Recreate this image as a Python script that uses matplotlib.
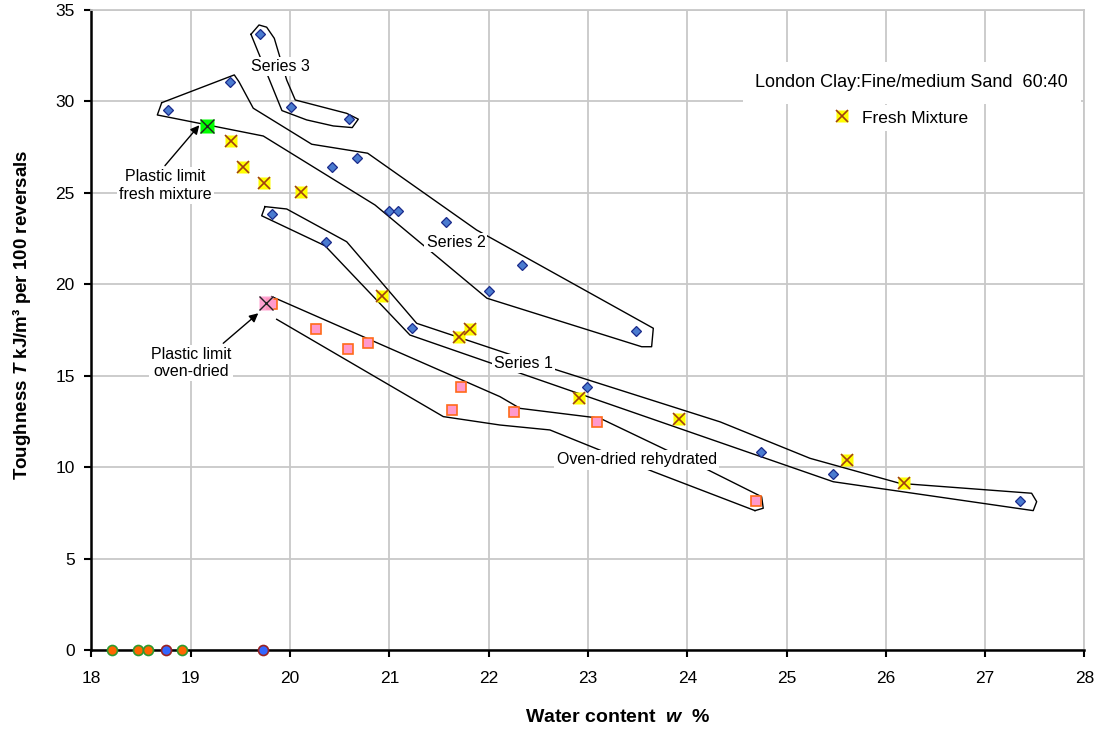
import matplotlib
matplotlib.use('Agg')
import matplotlib.pyplot as plt
from matplotlib.lines import Line2D

plt.rcParams['font.family'] = ['Liberation Sans', 'DejaVu Sans']
plt.rcParams['mathtext.fontset'] = 'custom'
plt.rcParams['mathtext.it'] = 'Liberation Sans:bold:italic'
plt.rcParams['mathtext.rm'] = 'Liberation Sans:bold'
plt.rcParams['mathtext.bf'] = 'Liberation Sans:bold'

# ---------------- data ----------------
# Blue diamond series (water content %, toughness)
s3_w = [19.70, 20.01, 20.59]
s3_T = [33.66, 29.69, 29.03]
s2_w = [18.77, 19.39, 20.42, 20.67, 21.00, 21.09, 21.57, 22.34, 22.00, 23.48]
s2_T = [29.52, 31.07, 26.42, 26.88, 24.02, 24.02, 23.40, 21.03, 19.63, 17.44]
s1_w = [19.82, 20.36, 21.23, 22.99, 24.74, 25.47, 27.35]
s1_T = [23.82, 22.32, 17.59, 14.36, 10.83, 9.64, 8.16]

# Fresh mixture
fresh_w = [19.40, 19.53, 19.74, 20.11, 20.93, 21.70, 21.81, 22.91, 23.92, 25.61, 26.18]
fresh_T = [27.83, 26.41, 25.52, 25.04, 19.33, 17.11, 17.53, 13.79, 12.61, 10.39, 9.15]

# Oven-dried rehydrated
oven_w = [19.82, 20.26, 20.58, 20.78, 21.72, 21.63, 22.26, 23.09, 24.69]
oven_T = [18.92, 17.57, 16.46, 16.79, 14.36, 13.12, 13.03, 12.45, 8.16]

# Plastic limits
pl_fresh_w, pl_fresh_T = [19.16], [28.65]
pl_oven_w, pl_oven_T = [19.76], [18.96]

# Points on the w axis (T = 0)
zero_orange_w = [18.21, 18.47, 18.57, 18.91]
zero_blue_w = [18.75, 19.73]

# Hand-drawn envelopes (data coordinates)
env3_w = [19.606, 19.687, 19.764, 19.841, 19.966, 20.052, 20.57, 20.687, 20.626, 20.435, 20.167, 19.918, 19.606]
env3_T = [33.66, 34.17, 34.05, 33.44, 31.16, 30.07, 29.34, 29.02, 28.56, 28.65, 28.98, 29.49, 33.66]
env2_w = [18.707, 19.438, 19.485, 19.629, 20.218, 20.781, 21.879, 23.658, 23.641, 23.541, 21.983, 20.855, 19.730, 18.663, 18.707]
env2_T = [29.92, 31.44, 31.07, 29.62, 27.65, 27.16, 22.96, 17.59, 16.58, 16.58, 19.23, 24.33, 28.10, 29.25, 29.92]
env1_w = [19.747, 19.966, 20.570, 21.275, 22.634, 24.332, 25.236, 26.142, 27.468, 27.519, 27.484, 25.470, 21.207, 20.352, 19.714, 19.747]
env1_T = [24.24, 24.11, 22.32, 17.86, 15.40, 12.47, 10.48, 9.11, 8.57, 8.11, 7.62, 9.20, 17.22, 22.10, 23.74, 24.24]
envo_up_w = [19.815, 22.114, 22.316, 23.121, 24.211, 24.749, 24.765, 24.682]
envo_up_T = [19.32, 13.85, 13.21, 12.67, 9.84, 8.38, 7.75, 7.62]
envo_lo_w = [19.865, 21.543, 22.114, 22.617, 23.658, 24.682]
envo_lo_T = [18.08, 12.76, 12.30, 12.03, 9.75, 7.62]

x_ticks = list(range(18, 29))
y_ticks = list(range(0, 36, 5))

# ---------------- figure ----------------
fig = plt.figure(figsize=(11.05, 7.31), dpi=100)
ax = fig.add_axes([0.0828, 0.1108, 0.8986, 0.8758])
ax.set_xlim(18, 28)
ax.set_ylim(0, 35)
ax.set_xticks(x_ticks)
ax.set_yticks(y_ticks)
ax.grid(True, color='#C8C8C8', lw=1.3)
ax.set_axisbelow(True)
for s in ['top', 'right']:
    ax.spines[s].set_color('#C8C8C8')
    ax.spines[s].set_linewidth(1.3)
for s in ['left', 'bottom']:
    ax.spines[s].set_color('black')
    ax.spines[s].set_linewidth(1.8)
ax.tick_params(direction='out', length=5, width=1.5, labelsize=12.5)
ax.tick_params(axis='x', pad=10)
ax.tick_params(axis='y', pad=7)

# envelopes
for ew, eT in [(env3_w, env3_T), (env2_w, env2_T), (env1_w, env1_T),
               (envo_up_w, envo_up_T), (envo_lo_w, envo_lo_T)]:
    ax.plot(ew, eT, color='black', lw=1.0, zorder=2)

# markers
diam = dict(marker='D', ms=5.6, mfc='#4A7BD0', mec='#1A2A8A', mew=0.9, ls='none', zorder=5)
ax.plot(s3_w, s3_T, **diam)
ax.plot(s2_w, s2_T, **diam)
ax.plot(s1_w, s1_T, **diam)

ax.plot(oven_w, oven_T, marker='s', ms=7.0, mfc='#FF99CC', mec='#FF6A1A', mew=1.2, ls='none', zorder=5)
ax.plot(pl_oven_w, pl_oven_T, marker='s', ms=10.5, mfc='#FF99CC', mec='none', ls='none', zorder=6, alpha=0.9)
ax.plot(pl_oven_w, pl_oven_T, marker='x', ms=10.5, mec='#202020', mew=1.0, ls='none', zorder=7)

ax.plot(fresh_w, fresh_T, marker='s', ms=8.5, mfc='#FFFF00', mec='none', ls='none', zorder=5)
ax.plot(fresh_w, fresh_T, marker='x', ms=8.0, mec='#A04010', mew=1.2, ls='none', zorder=6)
ax.plot(pl_fresh_w, pl_fresh_T, marker='s', ms=10.5, mfc='#00FF00', mec='none', ls='none', zorder=6)
ax.plot(pl_fresh_w, pl_fresh_T, marker='x', ms=10.5, mec='#202020', mew=1.0, ls='none', zorder=7)

ax.plot(zero_orange_w, [0] * len(zero_orange_w), marker='o', ms=7.2, mfc='#FF6600', mec='#2E9A2E',
        mew=1.2, ls='none', zorder=6, clip_on=False)
ax.plot(zero_blue_w, [0] * len(zero_blue_w), marker='o', ms=7.2, mfc='#3366FF', mec='#992222',
        mew=1.2, ls='none', zorder=6, clip_on=False)

# labels
box = dict(facecolor='white', edgecolor='none', pad=1.5)
ax.text(19.90, 31.89, 'Series 3', fontsize=11.5, ha='center', va='center', bbox=box, zorder=4)
ax.text(21.67, 22.27, 'Series 2', fontsize=11.5, ha='center', va='center', bbox=box, zorder=4)
ax.text(22.35, 15.64, 'Series 1', fontsize=11.5, ha='center', va='center', bbox=box, zorder=4)
ax.text(23.49, 10.39, 'Oven-dried rehydrated', fontsize=11.5, ha='center', va='center', bbox=box, zorder=4)
ax.text(18.745, 25.40, 'Plastic limit\nfresh mixture', fontsize=11.5, ha='center', va='center',
        bbox=box, zorder=4, linespacing=1.2)
ax.text(19.00, 15.69, 'Plastic limit\noven-dried', fontsize=11.5, ha='center', va='center',
        bbox=box, zorder=4, linespacing=1.2)

arr = dict(arrowstyle='-|>', color='black', lw=1.0, mutation_scale=13, shrinkA=0, shrinkB=0)
ax.annotate('', xy=(19.086, 28.69), xytext=(18.74, 26.48), arrowprops=arr, zorder=8)
ax.annotate('', xy=(19.68, 18.41), xytext=(19.327, 16.77), arrowprops=arr, zorder=8)

ax.text(26.26, 31.0, 'London Clay:Fine/medium Sand  60:40', fontsize=13, ha='center', va='center',
        bbox=dict(facecolor='white', edgecolor='none', pad=9), zorder=4)

h_fresh = (Line2D([], [], marker='s', ms=8.5, mfc='#FFFF00', mec='none', ls='none'),
           Line2D([], [], marker='x', ms=8.0, mec='#A04010', mew=1.2, ls='none'))
leg = ax.legend([h_fresh], ['Fresh Mixture'], loc='center', bbox_to_anchor=(0.815, 0.831),
                fontsize=12.5, frameon=True, facecolor='white', edgecolor='none', framealpha=1,
                handlelength=1.0, handletextpad=0.6, borderpad=0.3)
leg.set_zorder(4)

ax.set_xlabel('Water content  $w$  %', fontsize=14, fontweight='bold')
ax.xaxis.set_label_coords(0.530, -0.092)
ax.set_ylabel('Toughness $T$ kJ/m\u00b3 per 100 reversals', fontsize=13.5, fontweight='bold')
ax.yaxis.set_label_coords(-0.059, 0.523)

fig.savefig('out.png', dpi=100)
